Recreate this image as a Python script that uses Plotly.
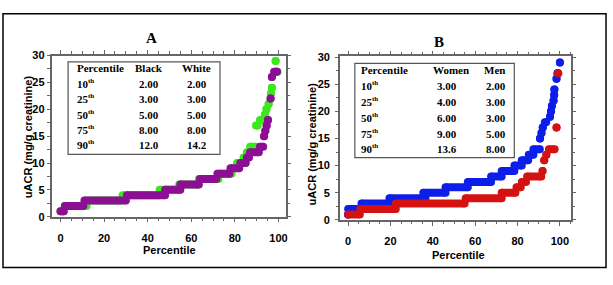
import plotly.graph_objects as go

W, H = 613, 285

# ---------------- data (step runs) ----------------
# Panel A
black_level = [1, 2, 3, 4, 5, 6, 7, 8, 9, 10, 11, 12, 13, 15, 16, 17, 18, 22, 26, 27]
black_start = [0, 2, 11, 30.5, 48, 55, 64, 72, 78, 82.5, 85.5, 87, 91.5, 93.4, 94.0, 94.6, 95.2, 96.4, 97.0, 98.0]
black_end   = [1.5, 10.5, 30, 48, 55, 63.5, 71.5, 77.5, 82, 85, 86.5, 91, 93, 93.4, 94.0, 94.6, 95.2, 96.4, 97.0, 99.3]

white_level = [1, 2, 3, 4, 5, 6, 7, 8, 9, 10, 11, 12, 13, 17, 18, 19, 20, 21, 23, 24, 27, 29]
white_start = [0, 2, 12.5, 28.5, 45.5, 54.5, 63.5, 73, 79, 81, 84, 85.5, 87, 89.7, 91.5, 93.8, 94.5, 95.5, 96.6, 97.0, 99.0, 98.7]
white_end   = [1.5, 12, 28, 45, 54, 63, 72.5, 78.5, 80.5, 83.5, 85, 86.5, 89.5, 90.5, 93, 93.8, 94.5, 95.5, 96.6, 97.0, 99.6, 98.7]

# Panel B
women_level = [1, 2, 3, 4, 5, 6, 7, 8, 9, 10, 11, 12, 13, 15, 16, 17, 18, 19, 20, 21, 22, 23, 24, 26, 27, 29]
women_start = [0, 0, 6.3, 19.5, 35.5, 46, 56.5, 67.5, 72.5, 78.5, 82, 85.3, 87.5, 90.6, 91.3, 91.9, 92.9, 95.3, 95.8, 96.2, 97.0, 97.3, 97.4, 98.4, 98.9, 100]
women_end   = [0, 6, 20, 36.5, 46, 56.5, 67.5, 72.5, 78.5, 82, 85, 87.5, 90.5, 90.6, 91.3, 91.9, 93.5, 95.3, 95.8, 96.2, 97.0, 97.3, 97.4, 98.4, 98.9, 100]

men_level = [1, 2, 3, 4, 5, 6, 7, 8, 9, 11, 12, 13, 17, 27]
men_start = [0, 5.8, 22.5, 55.5, 72.5, 79.5, 82, 84.5, 91.8, 92.6, 93.6, 94.8, 98.4, 99.2]
men_end   = [5.5, 22.5, 55, 72.5, 79, 81.5, 84, 91.2, 91.8, 92.6, 93.6, 97.5, 98.4, 99.2]

pct_numbers = ["10", "25", "50", "75", "90"]
pct_suffix = "th"
black_pct = ["2.00", "3.00", "5.00", "8.00", "12.0"]
white_pct = ["2.00", "3.00", "5.00", "8.00", "14.2"]
women_pct = ["3.00", "4.00", "6.00", "9.00", "13.6"]
men_pct = ["2.00", "3.00", "3.00", "5.00", "8.00"]

GREEN = "#3ae81c"
PURPLE = "#8c0f93"
BLUE = "#0c1ee8"
RED = "#d41212"


def X(px):
    return px / W


def Y(py):
    return 1 - py / H


def runs(levels, starts, ends):
    xs, ys = [], []
    for v, s, e in zip(levels, starts, ends):
        xs += [s, e, None]
        ys += [v, v, None]
    return xs, ys


fig = go.Figure()

SZ = 8
for (lv, st, en, col, xa, ya) in [
    (white_level, white_start, white_end, GREEN, "x", "y"),
    (black_level, black_start, black_end, PURPLE, "x", "y"),
    (women_level, women_start, women_end, BLUE, "x2", "y2"),
    (men_level, men_start, men_end, RED, "x2", "y2"),
]:
    xs, ys = runs(lv, st, en)
    fig.add_trace(go.Scatter(
        x=xs, y=ys, mode="lines+markers", xaxis=xa, yaxis=ya,
        line=dict(color=col, width=SZ),
        marker=dict(color=col, size=SZ, line=dict(width=0)),
        showlegend=False, hoverinfo="skip"))

AXC = "#666666"
tickfont = dict(family="Arial, Liberation Sans, sans-serif", size=11, color="black", weight="bold")


def xax(domain, rng, anchor):
    return dict(domain=domain, range=rng, anchor=anchor, showgrid=False, zeroline=False,
                showline=True, linecolor=AXC, linewidth=1.5, mirror="ticks",
                ticks="outside", ticklen=4, tickwidth=1, tickcolor=AXC,
                tick0=0, dtick=20, tickfont=tickfont, ticklabelstandoff=6,
                minor=dict(ticks="outside", ticklen=2.5, dtick=5, tick0=0, tickcolor=AXC, tickwidth=1, showgrid=False))


def yax(domain, rng, anchor, standoff):
    return dict(domain=domain, range=rng, anchor=anchor, showgrid=False, zeroline=False,
                showline=True, linecolor=AXC, linewidth=1.5, mirror="ticks",
                ticks="outside", ticklen=3, tickwidth=1, tickcolor=AXC,
                tick0=0, dtick=5, tickfont=tickfont, ticklabelstandoff=standoff,
                minor=dict(ticks="outside", ticklen=2.5, dtick=2.5, tick0=0, tickcolor=AXC, tickwidth=1, showgrid=False))


fig.update_layout(
    width=W, height=H, margin=dict(l=0, r=0, t=0, b=0),
    paper_bgcolor="white", plot_bgcolor="white",
    xaxis=xax([X(51.7), X(287)], [-4.1, 103.5], "y"),
    yaxis=yax([Y(220), Y(51.7)], [0, 30], "x", 0),
    xaxis2=xax([X(341), X(573)], [-3.9, 105.3], "y2"),
    yaxis2=yax([Y(223.3), Y(52.7)], [0, 30.1], "x2", 3),
)

ann = []
serif_b = dict(family="Times New Roman, Liberation Serif, serif", color="black", weight="bold")
sans_b = dict(family="Arial, Liberation Sans, sans-serif", size=11, color="black", weight="bold")


def add_text(txt, px, py, font, xanchor="center", textangle=0):
    ann.append(dict(text=txt, x=X(px), y=Y(py), xref="paper", yref="paper",
                    xanchor=xanchor, yanchor="middle", showarrow=False,
                    font=font, textangle=textangle))


# panel titles
add_text("A", 151.7, 33, dict(serif_b, size=15))
add_text("B", 440, 38, dict(serif_b, size=15))

# axis titles
add_text("Percentile", 170.5, 255, sans_b)
add_text("Percentile", 460, 260, sans_b)
add_text("uACR (mg/g creatinine)", 28.3, 136.7, sans_b, textangle=-90)
add_text("uACR (mg/g creatinine)", 312.5, 144, sans_b, textangle=-90)

tf = dict(serif_b, size=11)
sf = dict(serif_b, size=7)


def row_label(num, px, py):
    add_text(num, px, py, tf, xanchor="left")
    add_text(pct_suffix, px + 11.5, py - 3, sf, xanchor="left")


# table A
add_text("Percentile", 75, 65, tf, xanchor="left")
add_text("Black", 149.7, 65, tf)
add_text("White", 196.7, 65, tf)
rowsA = [81.7, 97.3, 113.3, 129, 145]
for num, b, w, ry in zip(pct_numbers, black_pct, white_pct, rowsA):
    row_label(num, 75, ry)
    add_text(b, 149.7, ry, tf)
    add_text(w, 197.8, ry, tf)

# table B
add_text("Percentile", 360, 66.7, tf, xanchor="left")
add_text("Women", 452, 66.7, tf)
add_text("Men", 496.3, 66.7, tf)
rowsB = [83.3, 100, 116.7, 133.3, 149]
for num, wv, mv, ry in zip(pct_numbers, women_pct, men_pct, rowsB):
    row_label(num, 360, ry)
    add_text(wv, 448.8, ry, tf)
    add_text(mv, 497.3, ry, tf)

shapes = [
    dict(type="rect", xref="paper", yref="paper", x0=X(3), x1=X(608), y0=Y(273), y1=Y(8),
         line=dict(color="black", width=1.5)),
    dict(type="rect", xref="paper", yref="paper", x0=X(68.3), x1=X(220.7), y0=Y(155), y1=Y(58.3),
         line=dict(color="#555555", width=1.2)),
    dict(type="rect", xref="paper", yref="paper", x0=X(356), x1=X(516), y0=Y(158.3), y1=Y(60),
         line=dict(color="#555555", width=1.2)),
]

fig.update_layout(annotations=ann, shapes=shapes)
fig.write_html("out.html", config={"displayModeBar": False},
               post_script="document.body.style.margin='0px';document.body.style.overflow='hidden';")
